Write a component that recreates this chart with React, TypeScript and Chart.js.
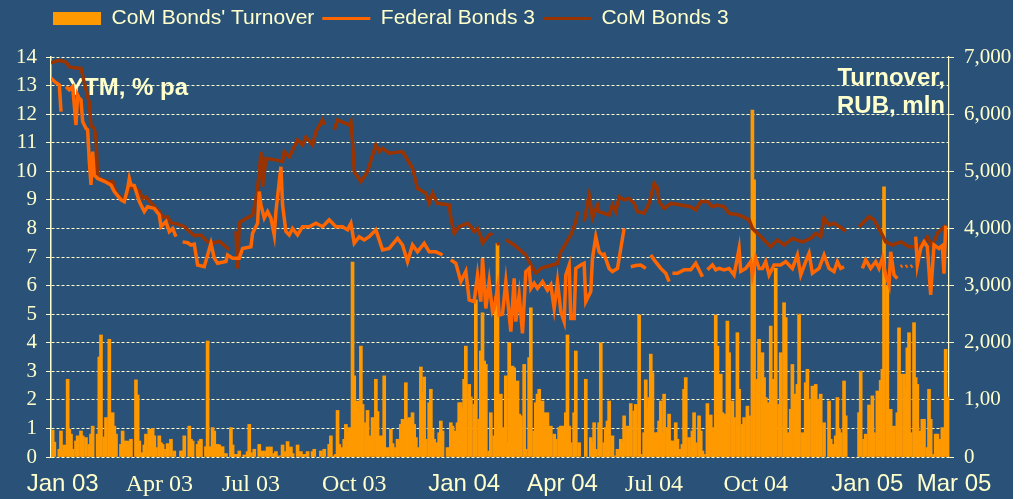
import React, { useEffect, useRef } from 'react';
import { Chart, registerables } from 'chart.js';

Chart.register(...registerables);

// ---------- DATA ----------
// x = trading-day index from the start of Jan 2003
const xTickDays = [7, 65, 120, 182, 248, 307, 362, 423, 490, 542];
const xTickLabels = ['Jan 03', 'Apr 03', 'Jul 03', 'Oct 03', 'Jan 04', 'Apr 04', 'Jul 04', 'Oct 04', 'Jan 05', 'Mar 05'];
const xTickSans = [true, false, false, false, true, true, false, false, true, true];
const rightTickLabels = ['0', '1,00', '2,000', '3,000', '4,000', '5,000', '6,000', '7,000'];

// CoM Bonds' Turnover, RUB mln: [day, value]
const turnover: [number, number][] = [
  [0, 180], [1, 470], [2, 260], [5, 135], [6, 455], [7, 105], [8, 210], [10, 1360], [11, 485], [12, 400], [13, 135], [15, 280], [16, 370], [18, 455], [19, 370], [21, 340], [23, 220], [24, 400], [25, 540], [28, 400], [29, 1750], [30, 2135], [32, 350], [33, 690], [35, 2060], [36, 455], [37, 775], [38, 540], [39, 400], [42, 220], [43, 455], [44, 280], [46, 280], [47, 260], [48, 310], [51, 1350], [52, 1085], [53, 280], [54, 45], [55, 75], [56, 210], [57, 400], [58, 105], [59, 485], [61, 500], [62, 370], [63, 165], [65, 370], [66, 250], [67, 220], [69, 135], [70, 235], [72, 310], [74, 105], [78, 105], [79, 105], [80, 370], [83, 540], [84, 310], [85, 280], [88, 220], [89, 280], [90, 310], [93, 180], [94, 2030], [95, 180], [97, 515], [98, 455], [99, 220], [100, 220], [101, 210], [103, 180], [105, 60], [108, 515], [109, 210], [110, 45], [112, 45], [113, 105], [116, 35], [118, 95], [119, 570], [120, 75], [122, 135], [125, 220], [127, 105], [129, 105], [130, 175], [132, 175], [134, 60], [135, 95], [137, 20], [139, 210], [141, 95], [142, 270], [144, 175], [145, 60], [148, 210], [150, 95], [152, 45], [154, 95], [157, 95], [158, 135], [162, 105], [164, 135], [167, 220], [168, 370], [170, 20], [171, 45], [172, 815], [173, 220], [175, 165], [176, 310], [177, 570], [178, 425],
  [179, 515], [180, 485], [181, 3410], [182, 1420], [184, 980], [185, 795], [186, 1940], [187, 920], [189, 600], [190, 815], [191, 370], [193, 690], [195, 1360], [196, 795], [197, 370], [199, 370], [200, 1420], [202, 165], [204, 485], [205, 235], [207, 165], [208, 310], [210, 570], [211, 660], [212, 600], [213, 1300], [214, 630], [215, 690], [217, 775], [218, 570], [219, 340], [220, 165], [222, 1575], [223, 1125], [224, 1400], [225, 310], [227, 950], [228, 1185], [229, 485], [230, 310], [232, 250], [233, 425], [234, 630], [235, 455], [238, 165], [240, 600], [241, 540], [242, 455], [244, 600], [245, 950], [246, 950], [247, 835], [248, 1360], [249, 1940], [251, 1270], [252, 1050], [254, 920], [255, 2750], [257, 660], [258, 1855], [259, 2525], [260, 1680], [261, 1620], [263, 105], [264, 775], [266, 370], [267, 2800], [268, 3740], [270, 1100], [271, 515], [273, 1420], [274, 250], [275, 2000], [276, 1125], [277, 1590], [278, 1560], [280, 1330], [281, 750], [282, 720], [284, 1620], [285, 135], [287, 1740], [288, 2610], [290, 455], [291, 950], [292, 1100], [293, 1185], [295, 980], [296, 775], [298, 775], [299, 280], [300, 540], [302, 400], [303, 310], [305, 515], [306, 540], [307, 540], [309, 775], [310, 2135], [311, 540], [312, 250], [314, 775], [315, 1855], [317, 250], [321, 1360], [324, 340], [325, 250], [326, 600], [327, 135], [329, 600], [330, 2000], [332, 250], [333, 515], [334, 630], [335, 980], [337, 370], [339, 20], [340, 135], [342, 310], [343, 250], [344, 720], [346, 540], [348, 935], [350, 805], [351, 920], [353, 2485], [354, 45], [356, 425], [357, 1350], [358, 865], [359, 1040], [360, 1800], [361, 1475], [363, 425], [364, 425], [365, 630], [366, 980], [367, 425], [368, 1100], [370, 515], [371, 750], [372, 280], [373, 280], [375, 600], [376, 310],
  [378, 135], [379, 220], [380, 1185], [381, 1390], [383, 340], [384, 105], [385, 455], [386, 775], [387, 250], [389, 720], [390, 455], [391, 105], [392, 45], [394, 935], [395, 540], [396, 735], [397, 515], [398, 370], [399, 2485], [400, 1940], [402, 1450], [403, 775], [404, 540], [405, 750], [406, 2380], [407, 1825], [409, 980], [410, 690], [412, 2175], [413, 1185], [415, 570], [416, 690], [418, 890], [419, 720], [421, 6070], [422, 4850], [424, 1360], [425, 2060], [427, 1825], [428, 1390], [429, 1040], [430, 950], [432, 2290], [433, 1360], [434, 1240], [435, 3300], [437, 920], [438, 1825], [440, 2700], [441, 2440], [442, 425], [444, 835], [445, 1620], [446, 720], [447, 1100], [448, 1270], [449, 2500], [451, 425], [452, 135], [453, 1300], [454, 1535], [455, 1010], [457, 1240], [458, 690], [459, 1270], [460, 1010], [461, 805], [462, 1100], [464, 600], [467, 980], [468, 310], [469, 220], [471, 370], [472, 1040], [473, 485], [474, 425], [476, 1330], [477, 720], [485, 775], [486, 1505], [488, 310], [489, 400], [491, 910], [492, 630], [493, 1070], [494, 425], [496, 1155], [498, 1340], [499, 1535], [500, 4730], [502, 3000], [503, 600], [504, 835], [505, 515], [506, 540], [508, 775], [509, 2260], [510, 1450], [512, 1450], [513, 1185], [514, 1910], [515, 2175], [516, 425], [518, 2350], [519, 1390], [520, 1270], [521, 190], [522, 455], [523, 660], [524, 660], [526, 165], [527, 1185], [528, 660], [530, 45], [531, 400], [532, 400], [533, 105], [534, 310], [535, 515], [537, 1885], [538, 1050],
];

// Federal Bonds 3, YTM % pa: [day, value] (null = gap)
const federal: [number, number | null][] = [
  [0, 13.25], [3, 13.1], [5, 13.02], [6, 12.09], [7, null], [9, 12.96], [11, 12.85], [13, 12.96], [15, 11.62], [16, 12.67], [17, 12.55], [18, 12.5], [19, 11.74], [21, 11.5], [22, 11.45], [23, 10.34], [24, 9.52], [25, 10.69], [26, 9.87], [28, 9.75], [32, 9.65], [36, 9.52], [38, 9.29], [42, 9.0], [44, 8.94], [46, 9.4], [47, 9.75], [48, 9.52], [50, 9.5], [53, 8.94], [56, 8.59], [58, 8.76], [62, 8.7], [65, 8.47], [66, 8.06], [69, 8.24], [71, 7.89], [73, 8.0], [75, 7.71], [77, null],
  [79, 7.53], [82, 7.5], [84, 7.42], [86, 7.45], [88, 6.72], [92, 6.66], [96, 7.48], [98, 6.96], [100, 6.78], [105, 6.84], [106, 7.07], [109, 6.96], [113, 6.96], [115, 7.3], [120, 7.36], [121, 7.83], [124, 8.18], [125, 9.29], [126, 8.82], [128, 8.36], [130, 8.59], [132, 8.36], [134, 7.77], [135, 8.59], [137, 9.64], [138, 10.16], [139, 8.82], [141, 7.89], [143, 7.77], [145, 8.0], [148, 7.77], [151, 8.06], [155, 8.06], [159, 8.18], [163, 8.06], [167, 8.3], [171, 8.06], [175, 8.06], [178, 7.95], [180, 8.18], [182, 7.48], [185, 7.71], [188, 7.6], [191, 7.71], [195, 7.95], [199, 7.25], [203, 7.3], [208, 7.65], [211, 7.42], [214, 6.84], [217, 7.42], [220, 7.18], [224, 7.48], [227, 7.18], [231, 7.18], [235, 7.07], [238, null],
  [240, 6.9], [243, 6.78], [246, 6.14], [249, 6.5], [251, 5.5], [254, 5.44], [256, 6.37], [258, 5.44], [259, 6.96], [261, 5.2], [263, 6.14], [265, 5.09], [266, 5.2], [268, 5.9], [269, 4.97], [271, 5.0], [273, 6.14], [275, 4.97], [276, 4.39], [278, 6.25], [279, 4.74], [281, 5.67], [283, 4.33], [285, 6.49], [287, 6.6], [288, 5.9], [290, 6.08], [292, 5.9], [295, 6.14], [298, 5.84], [300, 6.02], [302, 5.2], [304, 6.14], [306, 5.09], [308, 4.74], [309, 6.37], [311, 6.72], [312, 4.85], [314, 4.85], [315, 6.6], [318, 6.72], [320, 6.78], [321, 5.44], [324, 5.79], [325, 6.96], [327, 7.71], [329, 7.18], [331, 7.07], [332, 7.1], [335, 6.6], [337, 6.49], [340, 6.6], [342, 7.3], [344, 8.0], [346, null],
  [348, 6.66], [351, 6.7], [354, 6.72], [357, 6.6], [358, null], [360, 7.07], [362, 6.9], [366, 6.6], [369, 6.43], [371, 6.14], [372, null], [373, 6.43], [376, 6.43], [380, 6.55], [384, 6.55], [387, 6.78], [389, 6.55], [391, 6.31], [392, null],
  [394, 6.55], [397, 6.72], [399, 6.55], [401, 6.6], [404, 6.55], [407, 6.6], [410, 6.37], [413, 7.3], [414, 6.5], [417, 6.6], [420, 6.84], [421, 6.37], [423, 6.96], [425, 6.6], [427, 6.6], [429, 6.84], [431, 6.37], [434, 6.72], [438, 6.72], [441, 6.84], [445, 6.6], [448, 7.07], [450, 6.37], [453, 6.84], [455, 7.13], [457, 6.43], [461, 6.6], [464, 7.07], [467, 6.6], [470, 6.49], [472, 6.84], [474, 6.6], [476, 6.66], [478, null],
  [487, 6.6], [489, 6.9], [492, 6.6], [495, 6.84], [497, 6.6], [499, 6.96], [501, 6.37], [503, 6.02], [504, 7.18], [506, 6.37], [508, 6.25], [509, null], [510, 6.66], [511, 6.7], [512, null], [513, 6.66], [514, 6.7], [515, null], [516, 6.66], [517, 6.7], [518, null],
  [519, 7.71], [520, 6.72], [522, 7.3], [524, 7.53], [526, 7.36], [528, 5.67], [530, 7.42], [533, 7.3], [535, 7.4], [536, 6.42], [537, 8.1],
];

// CoM Bonds 3, YTM % pa: [day, value] (null = gap)
const comBonds: [number, number | null][] = [
  [0, 13.8], [3, 13.85], [5, 13.88], [9, 13.82], [11, 13.66], [14, 13.62], [18, 13.6], [20, 13.1], [23, 12.4], [24, 11.6], [26, 11.5], [27, 11.15], [28, 9.77], [31, 9.7], [35, 9.63], [37, 9.65], [39, 9.25], [43, 9.0], [45, 9.1], [47, 9.46], [50, 9.4], [53, 9.3], [55, 9.05], [57, 9.1], [60, 8.9], [62, 8.76], [65, 8.6], [67, 8.4], [70, 8.4], [72, 8.2], [76, 8.15], [80, 8.06], [86, 7.75], [90, 7.77], [94, 7.53], [98, 7.5], [101, 7.55], [105, 7.36], [107, 7.25], [109, null],
  [111, 7.9], [112, 6.6], [113, 8.2], [117, 8.35], [121, 8.47], [123, 9.0], [125, 9.93], [126, 10.68], [127, 9.46], [129, 10.45], [135, 10.4], [139, 10.34], [140, 10.69], [143, 10.5], [148, 11.1], [151, 10.92], [153, 11.2], [157, 10.92], [159, 11.39], [163, 11.8], [164, 11.62], [166, null],
  [170, 11.45], [172, 11.8], [179, 11.62], [180, 11.74], [181, 11.04], [182, 9.99], [186, 9.64], [190, 9.99], [193, 10.57], [195, 10.92], [197, 10.69], [199, 10.8], [203, 10.63], [211, 10.69], [213, 10.5], [217, 10.1], [220, 9.4], [225, 9.23], [227, 8.88], [229, 9.23], [232, 8.88], [239, 8.82], [240, 8.36], [242, 7.83], [245, 8.06], [250, 8.18], [252, 8.06], [254, 7.89], [256, 8.0], [258, 7.71], [259, 7.48], [263, 7.77], [265, 7.83], [266, null],
  [268, 7.5], [269, 7.42], [270, null],
  [273, 7.6], [278, 7.42], [285, 7.07], [288, 6.72], [291, 6.44], [294, 6.6], [297, 6.66], [301, 6.72], [304, 6.78], [306, 7.18], [309, 7.48], [312, 7.77], [315, 8.24], [316, 8.59], [318, null],
  [320, 8.24], [323, 9.17], [325, 8.36], [328, 8.82], [329, 8.59], [332, 8.53], [335, 8.47], [337, 8.82], [339, 8.59], [341, 9.11], [344, 9.0], [347, 9.05], [350, 8.88], [352, 8.59], [356, 8.53], [359, 8.88], [362, 9.58], [364, 9.4], [365, 8.94], [368, 8.7], [372, 8.88], [378, 8.82], [384, 8.76], [387, 8.65], [390, 8.94], [394, 8.94], [397, 8.76], [400, 8.82], [404, 8.76], [407, 8.53], [413, 8.47], [419, 8.3], [421, 8.0], [425, 7.77], [432, 7.36], [436, 7.6], [440, 7.42], [445, 7.65], [451, 7.53], [456, 7.65], [459, 7.83], [462, 7.71], [464, 8.36], [467, 8.12], [470, 8.18], [475, 8.0], [477, 7.89], [479, null],
  [485, 8.06], [491, 8.41], [494, 8.3], [499, 7.77], [501, 7.53], [505, 7.42], [510, 7.53], [515, 7.36], [520, 7.36], [524, 7.53], [526, 7.71], [529, 7.36], [532, 7.83], [537, 8.1],
];

// ---------- STYLE ----------
const BG = '#2A5279';
const CREAM = '#FFFFCC';
const SANS = '"Liberation Sans", Arial, sans-serif';
const SERIF = '"Liberation Serif", "Times New Roman", serif';

// extra space below the legend, and legend starting over the plot's left edge
const legendLayout = {
  id: 'legendLayout',
  beforeLayout(chart: any) {
    const lg = chart.legend;
    if (lg && !lg._spacerPatched) {
      const orig = lg.fit;
      lg.fit = function () {
        orig.call(this);
        this.height += 18;
      };
      lg._spacerPatched = true;
    }
  },
  afterLayout(chart: any) {
    const lg = chart.legend;
    if (lg) {
      lg.left = chart.chartArea.left - 6;
      lg.width = lg.right - lg.left;
    }
  },
};

const axisTitles = {
  id: 'axisTitles',
  beforeDatasetsDraw(chart: any) {
    const { ctx, chartArea: a } = chart;
    ctx.save();
    ctx.fillStyle = CREAM;
    ctx.font = 'bold 24px ' + SANS;
    ctx.textBaseline = 'alphabetic';
    ctx.textAlign = 'left';
    ctx.fillText('YTM, % pa', a.left + 17, a.top + 38);
    ctx.textAlign = 'right';
    ctx.fillText('Turnover,', a.right - 4, a.top + 28);
    ctx.fillText('RUB, mln', a.right - 4, a.top + 56);
    ctx.restore();
  },
};

export default function App() {
  const ref = useRef<HTMLCanvasElement>(null);

  useEffect(() => {
    if (!ref.current) return;
    const chart = new Chart(ref.current, {
      data: {
        datasets: [
          {
            type: 'bar',
            label: "CoM Bonds' Turnover",
            data: turnover.map(([d, v]) => ({ x: d, y: v })),
            backgroundColor: '#FF9900',
            borderWidth: 0,
            barThickness: 3,
            yAxisID: 'y1',
            order: 2,
          },
          {
            type: 'line',
            label: 'Federal Bonds 3',
            data: federal.map(([d, v]) => ({ x: d, y: v })),
            borderColor: '#FF6600',
            backgroundColor: '#FF6600',
            borderWidth: 3.5,
            pointRadius: 0,
            tension: 0,
            spanGaps: false,
            yAxisID: 'y',
            order: 0,
          },
          {
            type: 'line',
            label: 'CoM Bonds 3',
            data: comBonds.map(([d, v]) => ({ x: d, y: v })),
            borderColor: '#993300',
            backgroundColor: '#993300',
            borderWidth: 3.5,
            pointRadius: 0,
            tension: 0,
            spanGaps: false,
            yAxisID: 'y',
            order: 1,
          },
        ] as any,
      },
      options: {
        animation: false,
        responsive: false,
        devicePixelRatio: 1,
        layout: { padding: { left: 0, right: 0, top: 0, bottom: 0 } },
        plugins: {
          tooltip: { enabled: false },
          legend: {
            position: 'top',
            align: 'start',
            labels: {
              usePointStyle: true,
              pointStyleWidth: 48,
              boxHeight: 13,
              padding: 8,
              color: CREAM,
              font: { family: SANS, size: 21 },
              sort: (a: any, b: any) => a.datasetIndex - b.datasetIndex,
              generateLabels: (c: any) =>
                (Chart.defaults.plugins.legend.labels.generateLabels as any)(c).map((l: any) => ({
                  ...l,
                  pointStyle: l.datasetIndex === 0 ? 'rect' : 'line',
                  lineWidth: l.datasetIndex === 0 ? 0 : 3,
                  fontColor: CREAM,
                })),
            },
          },
        },
        scales: {
          x: {
            type: 'linear',
            min: 0,
            max: 539,
            bounds: 'data',
            offset: false,
            afterFit: (scale: any) => {
              scale.height = 42;
            },
            grid: { display: false, drawTicks: false, offset: false },
            border: { display: false },
            afterBuildTicks: (scale: any) => {
              scale.ticks = xTickDays.map((v) => ({ value: v }));
            },
            ticks: {
              autoSkip: false,
              maxRotation: 0,
              padding: 13,
              color: CREAM,
              font: (ctx: any) => ({ family: xTickSans[ctx.index] ? SANS : SERIF, size: 24 }),
              callback: (_v: any, i: number) => xTickLabels[i],
            },
          },
          y: {
            type: 'linear',
            position: 'left',
            min: 0,
            max: 14,
            afterFit: (scale: any) => {
              scale.width = 51;
            },
            grid: {
              color: CREAM,
              lineWidth: 1,
              tickLength: 5,
              tickColor: CREAM,
            },
            border: { display: true, color: CREAM, width: 1.5, dash: [3, 2] },
            ticks: {
              autoSkip: false,
              stepSize: 1,
              padding: 9,
              color: CREAM,
              font: { family: SERIF, size: 21 },
              callback: (v: any) => String(v),
            },
          },
          y1: {
            type: 'linear',
            position: 'right',
            min: 0,
            max: 7000,
            afterFit: (scale: any) => {
              scale.width = 64;
            },
            grid: {
              drawOnChartArea: false,
              tickLength: 5,
              tickColor: CREAM,
            },
            border: { display: true, color: CREAM, width: 1.2 },
            ticks: {
              autoSkip: false,
              stepSize: 1000,
              padding: 10,
              color: CREAM,
              font: { family: SERIF, size: 21 },
              callback: (v: any) => rightTickLabels[Math.round(v / 1000)],
            },
          },
        },
      } as any,
      plugins: [legendLayout, axisTitles],
    });
    return () => chart.destroy();
  }, []);

  return (
    <div style={{ position: 'absolute', left: 0, top: 0, width: 1013, height: 499, background: BG }}>
      <canvas ref={ref} width={1013} height={499} style={{ display: 'block' }} />
    </div>
  );
}
